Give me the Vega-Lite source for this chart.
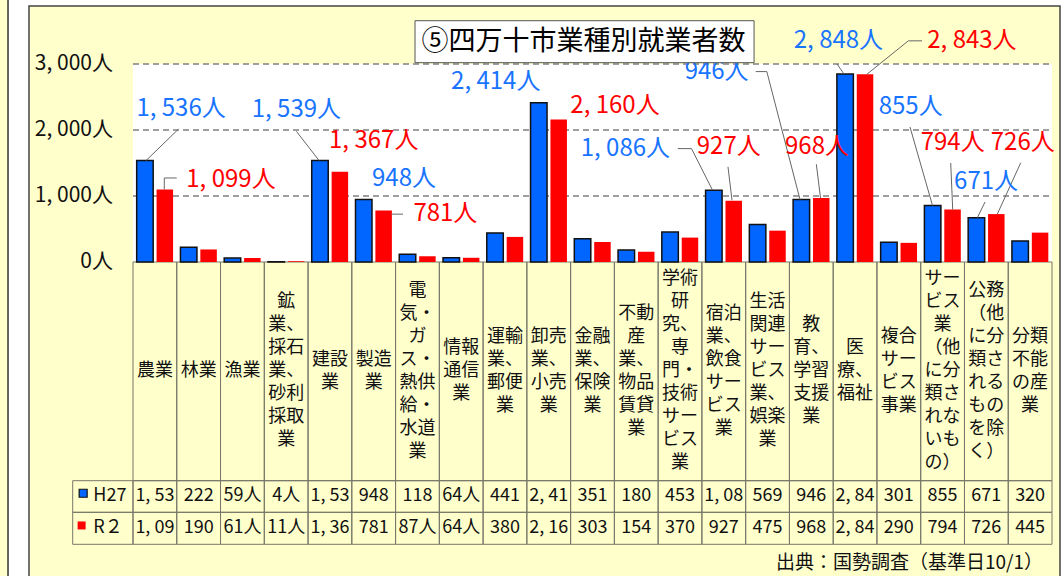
{
  "$schema": "https://vega.github.io/schema/vega-lite/v6.json",
  "width": 919,
  "height": 570,
  "autosize": {"type": "none"},
  "padding": {"left": 133, "top": 6, "right": 12, "bottom": 0},
  "background": "#FFFFFF",
  "config": {
    "view": {"stroke": "transparent", "fill": "transparent"},
    "axisX": {"disable": true},
    "font": "Noto Sans CJK JP",
    "text": {"font": "Noto Sans CJK JP"}
  },
  "data": {
    "values": [
      {"cat": "農業", "label": "農業", "H27": 1536, "R2": 1099},
      {"cat": "林業", "label": "林業", "H27": 222, "R2": 190},
      {"cat": "漁業", "label": "漁業", "H27": 59, "R2": 61},
      {"cat": "鉱業、採石業、砂利採取業", "label": "鉱\n業、\n採石\n業、\n砂利\n採取\n業", "H27": 4, "R2": 11},
      {"cat": "建設業", "label": "建設\n業", "H27": 1539, "R2": 1367},
      {"cat": "製造業", "label": "製造\n業", "H27": 948, "R2": 781},
      {"cat": "電気・ガス・熱供給・水道業", "label": "電\n気・\nガ\nス・\n熱供\n給・\n水道\n業", "H27": 118, "R2": 87},
      {"cat": "情報通信業", "label": "情報\n通信\n業", "H27": 64, "R2": 64},
      {"cat": "運輸業、郵便業", "label": "運輸\n業、\n郵便\n業", "H27": 441, "R2": 380},
      {"cat": "卸売業、小売業", "label": "卸売\n業、\n小売\n業", "H27": 2414, "R2": 2160},
      {"cat": "金融業、保険業", "label": "金融\n業、\n保険\n業", "H27": 351, "R2": 303},
      {"cat": "不動産業、物品賃貸業", "label": "不動\n産\n業、\n物品\n賃貸\n業", "H27": 180, "R2": 154},
      {"cat": "学術研究、専門・技術サービス業", "label": "学術\n研\n究、\n専\n門・\n技術\nサー\nビス\n業", "H27": 453, "R2": 370},
      {"cat": "宿泊業、飲食サービス業", "label": "宿泊\n業、\n飲食\nサー\nビス\n業", "H27": 1086, "R2": 927},
      {"cat": "生活関連サービス業、娯楽業", "label": "生活\n関連\nサー\nビス\n業、\n娯楽\n業", "H27": 569, "R2": 475},
      {"cat": "教育、学習支援業", "label": "教\n育、\n学習\n支援\n業", "H27": 946, "R2": 968},
      {"cat": "医療、福祉", "label": "医\n療、\n福祉", "H27": 2848, "R2": 2843},
      {"cat": "複合サービス事業", "label": "複合\nサー\nビス\n事業", "H27": 301, "R2": 290},
      {"cat": "サービス業（他に分類されないもの）", "label": "サー\nビス\n業\n（他\nに分\n類さ\nれな\nいも\nの）", "H27": 855, "R2": 794},
      {"cat": "公務（他に分類されるものを除く）", "label": "公務\n（他\nに分\n類さ\nれる\nもの\nを除\nく）", "H27": 671, "R2": 726},
      {"cat": "分類不能の産業", "label": "分類\n不能\nの産\n業", "H27": 320, "R2": 445}
    ]
  },
  "transform": [
    {"fold": ["H27", "R2"], "as": ["series", "value"]},
    {"calculate": "replace(format(datum.value, ','), ',', ', ') + '人'", "as": "lbl"},
    {"calculate": "datum.value >= 1000 ? substring(replace(format(datum.value, ','), ',', ', '), 0, 5) : (datum.value < 100 ? datum.value + '人' : '' + datum.value)", "as": "tt"},
    {"calculate": "-1657 + (length(split(datum.label, '\\n')) - 1) * 174.24", "as": "ly"}
  ],
  "layer": [
    {
      "data": {"values": [{}]},
      "mark": {"type": "rect", "fill": "#FFFFCC", "stroke": "#444444", "strokeWidth": 1.5},
      "encoding": {
        "x": {"datum": "農業", "type": "nominal", "bandPosition": -2.3765},
        "x2": {"datum": "農業", "bandPosition": 21.183},
        "y": {"datum": 3878.79, "type": "quantitative", "axis": null},
        "y2": {"datum": -4820}
      }
    },
    {
      "data": {"values": [{}]},
      "mark": {"type": "rect", "fill": "#FFFFCC", "stroke": "#333333", "strokeWidth": 1.5},
      "encoding": {
        "x": {"datum": "農業", "type": "nominal", "bandPosition": -3.3},
        "x2": {"datum": "農業", "bandPosition": -2.856},
        "y": {"datum": 3990, "type": "quantitative", "axis": null},
        "y2": {"datum": -4820}
      }
    },
    {
      "data": {"values": [{}]},
      "mark": {"type": "rect", "fill": "#FFFFFF"},
      "encoding": {
        "x": {"datum": "農業", "type": "nominal", "bandPosition": 0},
        "x2": {"datum": "分類不能の産業", "bandPosition": 1},
        "y": {"datum": 0, "type": "quantitative", "axis": null},
        "y2": {"datum": 3000}
      }
    },
    {
      "data": {"values": [{"g": 1000}, {"g": 2000}, {"g": 3000}]},
      "mark": {"type": "rule", "stroke": "#808080", "strokeWidth": 1.5, "strokeDash": [6, 4]},
      "encoding": {
        "x": {"datum": "農業", "type": "nominal", "bandPosition": 0},
        "x2": {"datum": "分類不能の産業", "bandPosition": 1},
        "y": {"field": "g", "type": "quantitative", "axis": null}
      }
    },
    {
      "data": {"values": [{"t": 0}, {"t": 1000}, {"t": 2000}, {"t": 3000}]},
      "transform": [{"calculate": "replace(format(datum.t, ','), ',', ', ') + '人'", "as": "tl"}],
      "mark": {"type": "text", "align": "right", "baseline": "middle", "fontSize": 21, "fill": "#111111", "dx": -20},
      "encoding": {
        "x": {"datum": "農業", "type": "nominal", "bandPosition": 0},
        "y": {"field": "t", "type": "quantitative", "axis": null},
        "text": {"field": "tl"}
      }
    },
    {
      "transform": [{"filter": "datum.series === 'H27'"}],
      "mark": {"type": "rect", "fill": "transparent", "stroke": "#77776a", "strokeWidth": 1},
      "encoding": {
        "x": {"field": "cat", "type": "nominal"},
        "y": {"datum": 0, "type": "quantitative", "axis": null},
        "y2": {"datum": -3313.6}
      }
    },
    {
      "transform": [{"filter": "datum.series === 'H27'"}],
      "mark": {"type": "rect", "fill": "transparent", "stroke": "#77776a", "strokeWidth": 1},
      "encoding": {
        "x": {"field": "cat", "type": "nominal"},
        "y": {"datum": -3313.6, "type": "quantitative", "axis": null},
        "y2": {"datum": -3792.4}
      }
    },
    {
      "transform": [{"filter": "datum.series === 'H27'"}],
      "mark": {"type": "rect", "fill": "transparent", "stroke": "#77776a", "strokeWidth": 1},
      "encoding": {
        "x": {"field": "cat", "type": "nominal"},
        "y": {"datum": -3792.4, "type": "quantitative", "axis": null},
        "y2": {"datum": -4277.3}
      }
    },
    {
      "data": {"values": [{}]},
      "mark": {"type": "rect", "fill": "transparent", "stroke": "#77776a", "strokeWidth": 1},
      "encoding": {
        "x": {"datum": "農業", "type": "nominal", "bandPosition": -1.378},
        "x2": {"datum": "農業", "bandPosition": 0},
        "y": {"datum": -3313.6, "type": "quantitative", "axis": null},
        "y2": {"datum": -3792.4}
      }
    },
    {
      "data": {"values": [{}]},
      "mark": {"type": "rect", "fill": "transparent", "stroke": "#77776a", "strokeWidth": 1},
      "encoding": {
        "x": {"datum": "農業", "type": "nominal", "bandPosition": -1.378},
        "x2": {"datum": "農業", "bandPosition": 0},
        "y": {"datum": -3792.4, "type": "quantitative", "axis": null},
        "y2": {"datum": -4277.3}
      }
    },
    {
      "mark": {"type": "bar", "stroke": "#111111", "strokeWidth": 1.5},
      "encoding": {
        "x": {
          "field": "cat", "type": "nominal", "axis": null,
          "scale": {
            "domain": ["農業", "林業", "漁業", "鉱業、採石業、砂利採取業", "建設業", "製造業", "電気・ガス・熱供給・水道業", "情報通信業", "運輸業、郵便業", "卸売業、小売業", "金融業、保険業", "不動産業、物品賃貸業", "学術研究、専門・技術サービス業", "宿泊業、飲食サービス業", "生活関連サービス業、娯楽業", "教育、学習支援業", "医療、福祉", "複合サービス事業", "サービス業（他に分類されないもの）", "公務（他に分類されるものを除く）", "分類不能の産業"],
            "paddingInner": 0, "paddingOuter": 0
          }
        },
        "xOffset": {"field": "series", "type": "nominal", "scale": {"domain": ["H27", "R2"], "paddingInner": 0.171, "paddingOuter": 0.185}},
        "y": {
          "field": "value", "type": "quantitative", "axis": null,
          "scale": {"domain": [-4757.58, 3878.79], "nice": false, "zero": false}
        },
        "color": {"field": "series", "type": "nominal", "scale": {"domain": ["H27", "R2"], "range": ["#0066FF", "#FF0000"]}, "legend": null},
        "strokeOpacity": {"condition": {"test": "datum.series === 'H27'", "value": 1}, "value": 0}
      }
    },
    {"data": {"values": [{}]}, "mark": {"type": "rule", "stroke": "#666666", "strokeWidth": 1}, "encoding": {"x": {"datum": "農業", "type": "nominal", "bandPosition": 0.297}, "x2": {"datum": "農業", "bandPosition": 1.035}, "y": {"datum": 1536, "type": "quantitative", "axis": null}, "y2": {"datum": 2011}}},
    {"data": {"values": [{}]}, "mark": {"type": "rule", "stroke": "#666666", "strokeWidth": 1}, "encoding": {"x": {"datum": "農業", "type": "nominal", "bandPosition": 0.715}, "x2": {"datum": "農業", "bandPosition": 0.715}, "y": {"datum": 1099, "type": "quantitative", "axis": null}, "y2": {"datum": 1273}}},
    {"data": {"values": [{}]}, "mark": {"type": "rule", "stroke": "#666666", "strokeWidth": 1}, "encoding": {"x": {"datum": "農業", "type": "nominal", "bandPosition": 0.715}, "x2": {"datum": "農業", "bandPosition": 0.999}, "y": {"datum": 1273, "type": "quantitative", "axis": null}, "y2": {"datum": 1273}}},
    {"data": {"values": [{}]}, "mark": {"type": "rule", "stroke": "#666666", "strokeWidth": 1}, "encoding": {"x": {"datum": "建設業", "type": "nominal", "bandPosition": 0.25}, "x2": {"datum": "建設業", "bandPosition": -0.266}, "y": {"datum": 1539, "type": "quantitative", "axis": null}, "y2": {"datum": 1980}}},
    {"data": {"values": [{}]}, "mark": {"type": "rule", "stroke": "#666666", "strokeWidth": 1}, "encoding": {"x": {"datum": "製造業", "type": "nominal", "bandPosition": 0.907}, "x2": {"datum": "製造業", "bandPosition": 1.17}, "y": {"datum": 725, "type": "quantitative", "axis": null}, "y2": {"datum": 725}}},
    {"data": {"values": [{}]}, "mark": {"type": "rule", "stroke": "#666666", "strokeWidth": 1}, "encoding": {"x": {"datum": "宿泊業、飲食サービス業", "type": "nominal", "bandPosition": -0.55}, "x2": {"datum": "宿泊業、飲食サービス業", "bandPosition": -0.2377}, "y": {"datum": 1718, "type": "quantitative", "axis": null}, "y2": {"datum": 1718}}},
    {"data": {"values": [{}]}, "mark": {"type": "rule", "stroke": "#666666", "strokeWidth": 1}, "encoding": {"x": {"datum": "宿泊業、飲食サービス業", "type": "nominal", "bandPosition": -0.2377}, "x2": {"datum": "宿泊業、飲食サービス業", "bandPosition": 0.2377}, "y": {"datum": 1718, "type": "quantitative", "axis": null}, "y2": {"datum": 1095}}},
    {"data": {"values": [{}]}, "mark": {"type": "rule", "stroke": "#666666", "strokeWidth": 1}, "encoding": {"x": {"datum": "宿泊業、飲食サービス業", "type": "nominal", "bandPosition": 0.596}, "x2": {"datum": "宿泊業、飲食サービス業", "bandPosition": 0.688}, "y": {"datum": 1442, "type": "quantitative", "axis": null}, "y2": {"datum": 935}}},
    {"data": {"values": [{}]}, "mark": {"type": "rule", "stroke": "#666666", "strokeWidth": 1}, "encoding": {"x": {"datum": "教育、学習支援業", "type": "nominal", "bandPosition": -0.77}, "x2": {"datum": "教育、学習支援業", "bandPosition": -0.5165}, "y": {"datum": 2885, "type": "quantitative", "axis": null}, "y2": {"datum": 2885}}},
    {"data": {"values": [{}]}, "mark": {"type": "rule", "stroke": "#666666", "strokeWidth": 1}, "encoding": {"x": {"datum": "教育、学習支援業", "type": "nominal", "bandPosition": -0.5165}, "x2": {"datum": "教育、学習支援業", "bandPosition": 0.242}, "y": {"datum": 2885, "type": "quantitative", "axis": null}, "y2": {"datum": 946}}},
    {"data": {"values": [{}]}, "mark": {"type": "rule", "stroke": "#666666", "strokeWidth": 1}, "encoding": {"x": {"datum": "教育、学習支援業", "type": "nominal", "bandPosition": 0.615}, "x2": {"datum": "教育、学習支援業", "bandPosition": 0.711}, "y": {"datum": 1482, "type": "quantitative", "axis": null}, "y2": {"datum": 968}}},
    {"data": {"values": [{}]}, "mark": {"type": "rule", "stroke": "#666666", "strokeWidth": 1}, "encoding": {"x": {"datum": "医療、福祉", "type": "nominal", "bandPosition": 0.088}, "x2": {"datum": "医療、福祉", "bandPosition": 0.248}, "y": {"datum": 3000, "type": "quantitative", "axis": null}, "y2": {"datum": 2848}}},
    {"data": {"values": [{}]}, "mark": {"type": "rule", "stroke": "#666666", "strokeWidth": 1}, "encoding": {"x": {"datum": "医療、福祉", "type": "nominal", "bandPosition": 2.03}, "x2": {"datum": "医療、福祉", "bandPosition": 1.717}, "y": {"datum": 3351, "type": "quantitative", "axis": null}, "y2": {"datum": 3351}}},
    {"data": {"values": [{}]}, "mark": {"type": "rule", "stroke": "#666666", "strokeWidth": 1}, "encoding": {"x": {"datum": "医療、福祉", "type": "nominal", "bandPosition": 1.717}, "x2": {"datum": "医療、福祉", "bandPosition": 0.767}, "y": {"datum": 3351, "type": "quantitative", "axis": null}, "y2": {"datum": 2843}}},
    {"data": {"values": [{}]}, "mark": {"type": "rule", "stroke": "#666666", "strokeWidth": 1}, "encoding": {"x": {"datum": "サービス業（他に分類されないもの）", "type": "nominal", "bandPosition": -0.2445}, "x2": {"datum": "サービス業（他に分類されないもの）", "bandPosition": 0.27}, "y": {"datum": 2045, "type": "quantitative", "axis": null}, "y2": {"datum": 855}}},
    {"data": {"values": [{}]}, "mark": {"type": "rule", "stroke": "#666666", "strokeWidth": 1}, "encoding": {"x": {"datum": "サービス業（他に分類されないもの）", "type": "nominal", "bandPosition": 0.6856}, "x2": {"datum": "サービス業（他に分類されないもの）", "bandPosition": 0.731}, "y": {"datum": 1500, "type": "quantitative", "axis": null}, "y2": {"datum": 794}}},
    {"data": {"values": [{}]}, "mark": {"type": "rule", "stroke": "#666666", "strokeWidth": 1}, "encoding": {"x": {"datum": "公務（他に分類されるものを除く）", "type": "nominal", "bandPosition": 1.2856}, "x2": {"datum": "公務（他に分類されるものを除く）", "bandPosition": 0.751}, "y": {"datum": 1504, "type": "quantitative", "axis": null}, "y2": {"datum": 726}}},
    {"data": {"values": [{}]}, "mark": {"type": "rule", "stroke": "#666666", "strokeWidth": 1}, "encoding": {"x": {"datum": "公務（他に分類されるものを除く）", "type": "nominal", "bandPosition": 0.47}, "x2": {"datum": "公務（他に分類されるものを除く）", "bandPosition": 0.294}, "y": {"datum": 909, "type": "quantitative", "axis": null}, "y2": {"datum": 671}}},

    {"transform": [{"filter": "datum.cat === '農業' && datum.series === 'H27'"}], "mark": {"type": "text", "align": "left", "baseline": "middle", "fontSize": 24, "fill": "#1874FF", "dx": 3.4, "dy": -51.6}, "encoding": {"x": {"field": "cat", "type": "nominal", "bandPosition": 0}, "y": {"field": "value", "type": "quantitative", "axis": null}, "text": {"field": "lbl"}}},
    {"transform": [{"filter": "datum.cat === '農業' && datum.series === 'R2'"}], "mark": {"type": "text", "align": "left", "baseline": "middle", "fontSize": 24, "fill": "#FF0000", "dx": 53.3, "dy": -9}, "encoding": {"x": {"field": "cat", "type": "nominal", "bandPosition": 0}, "y": {"field": "value", "type": "quantitative", "axis": null}, "text": {"field": "lbl"}}},
    {"transform": [{"filter": "datum.cat === '建設業' && datum.series === 'H27'"}], "mark": {"type": "text", "align": "left", "baseline": "middle", "fontSize": 24, "fill": "#1874FF", "dx": -56.3, "dy": -50.4}, "encoding": {"x": {"field": "cat", "type": "nominal", "bandPosition": 0}, "y": {"field": "value", "type": "quantitative", "axis": null}, "text": {"field": "lbl"}}},
    {"transform": [{"filter": "datum.cat === '建設業' && datum.series === 'R2'"}], "mark": {"type": "text", "align": "left", "baseline": "middle", "fontSize": 24, "fill": "#FF0000", "dx": 21, "dy": -31.2}, "encoding": {"x": {"field": "cat", "type": "nominal", "bandPosition": 0}, "y": {"field": "value", "type": "quantitative", "axis": null}, "text": {"field": "lbl"}}},
    {"transform": [{"filter": "datum.cat === '製造業' && datum.series === 'H27'"}], "mark": {"type": "text", "align": "left", "baseline": "middle", "fontSize": 24, "fill": "#1874FF", "dx": 20.2, "dy": -20.4}, "encoding": {"x": {"field": "cat", "type": "nominal", "bandPosition": 0}, "y": {"field": "value", "type": "quantitative", "axis": null}, "text": {"field": "lbl"}}},
    {"transform": [{"filter": "datum.cat === '製造業' && datum.series === 'R2'"}], "mark": {"type": "text", "align": "left", "baseline": "middle", "fontSize": 24, "fill": "#FF0000", "dx": 61.6, "dy": 3.5}, "encoding": {"x": {"field": "cat", "type": "nominal", "bandPosition": 0}, "y": {"field": "value", "type": "quantitative", "axis": null}, "text": {"field": "lbl"}}},
    {"transform": [{"filter": "datum.cat === '卸売業、小売業' && datum.series === 'H27'"}], "mark": {"type": "text", "align": "left", "baseline": "middle", "fontSize": 24, "fill": "#1874FF", "dx": -75.8, "dy": -20.4}, "encoding": {"x": {"field": "cat", "type": "nominal", "bandPosition": 0}, "y": {"field": "value", "type": "quantitative", "axis": null}, "text": {"field": "lbl"}}},
    {"transform": [{"filter": "datum.cat === '卸売業、小売業' && datum.series === 'R2'"}], "mark": {"type": "text", "align": "left", "baseline": "middle", "fontSize": 24, "fill": "#FF0000", "dx": 43.5, "dy": -13.9}, "encoding": {"x": {"field": "cat", "type": "nominal", "bandPosition": 0}, "y": {"field": "value", "type": "quantitative", "axis": null}, "text": {"field": "lbl"}}},
    {"transform": [{"filter": "datum.cat === '宿泊業、飲食サービス業' && datum.series === 'H27'"}], "mark": {"type": "text", "align": "left", "baseline": "middle", "fontSize": 24, "fill": "#1874FF", "dx": -121.2, "dy": -41.7}, "encoding": {"x": {"field": "cat", "type": "nominal", "bandPosition": 0}, "y": {"field": "value", "type": "quantitative", "axis": null}, "text": {"field": "lbl"}}},
    {"transform": [{"filter": "datum.cat === '宿泊業、飲食サービス業' && datum.series === 'R2'"}], "mark": {"type": "text", "align": "left", "baseline": "middle", "fontSize": 24, "fill": "#FF0000", "dx": -5.1, "dy": -53.8}, "encoding": {"x": {"field": "cat", "type": "nominal", "bandPosition": 0}, "y": {"field": "value", "type": "quantitative", "axis": null}, "text": {"field": "lbl"}}},
    {"transform": [{"filter": "datum.cat === '教育、学習支援業' && datum.series === 'H27'"}], "mark": {"type": "text", "align": "left", "baseline": "middle", "fontSize": 24, "fill": "#1874FF", "dx": -104.8, "dy": -127.3}, "encoding": {"x": {"field": "cat", "type": "nominal", "bandPosition": 0}, "y": {"field": "value", "type": "quantitative", "axis": null}, "text": {"field": "lbl"}}},
    {"transform": [{"filter": "datum.cat === '教育、学習支援業' && datum.series === 'R2'"}], "mark": {"type": "text", "align": "left", "baseline": "middle", "fontSize": 24, "fill": "#FF0000", "dx": -4.4, "dy": -51.1}, "encoding": {"x": {"field": "cat", "type": "nominal", "bandPosition": 0}, "y": {"field": "value", "type": "quantitative", "axis": null}, "text": {"field": "lbl"}}},
    {"transform": [{"filter": "datum.cat === '医療、福祉' && datum.series === 'H27'"}], "mark": {"type": "text", "align": "left", "baseline": "middle", "fontSize": 24, "fill": "#1874FF", "dx": -39.4, "dy": -33.2}, "encoding": {"x": {"field": "cat", "type": "nominal", "bandPosition": 0}, "y": {"field": "value", "type": "quantitative", "axis": null}, "text": {"field": "lbl"}}},
    {"transform": [{"filter": "datum.cat === '医療、福祉' && datum.series === 'R2'"}], "mark": {"type": "text", "align": "left", "baseline": "middle", "fontSize": 24, "fill": "#FF0000", "dx": 94.1, "dy": -33.6}, "encoding": {"x": {"field": "cat", "type": "nominal", "bandPosition": 0}, "y": {"field": "value", "type": "quantitative", "axis": null}, "text": {"field": "lbl"}}},
    {"transform": [{"filter": "datum.cat === 'サービス業（他に分類されないもの）' && datum.series === 'H27'"}], "mark": {"type": "text", "align": "left", "baseline": "middle", "fontSize": 24, "fill": "#1874FF", "dx": -42, "dy": -98.6}, "encoding": {"x": {"field": "cat", "type": "nominal", "bandPosition": 0}, "y": {"field": "value", "type": "quantitative", "axis": null}, "text": {"field": "lbl"}}},
    {"transform": [{"filter": "datum.cat === 'サービス業（他に分類されないもの）' && datum.series === 'R2'"}], "mark": {"type": "text", "align": "left", "baseline": "middle", "fontSize": 24, "fill": "#FF0000", "dx": 0, "dy": -66.6}, "encoding": {"x": {"field": "cat", "type": "nominal", "bandPosition": 0}, "y": {"field": "value", "type": "quantitative", "axis": null}, "text": {"field": "lbl"}}},
    {"transform": [{"filter": "datum.cat === '公務（他に分類されるものを除く）' && datum.series === 'H27'"}], "mark": {"type": "text", "align": "left", "baseline": "middle", "fontSize": 24, "fill": "#1874FF", "dx": -10.4, "dy": -36}, "encoding": {"x": {"field": "cat", "type": "nominal", "bandPosition": 0}, "y": {"field": "value", "type": "quantitative", "axis": null}, "text": {"field": "lbl"}}},
    {"transform": [{"filter": "datum.cat === '公務（他に分類されるものを除く）' && datum.series === 'R2'"}], "mark": {"type": "text", "align": "left", "baseline": "middle", "fontSize": 24, "fill": "#FF0000", "dx": 26.3, "dy": -71.1}, "encoding": {"x": {"field": "cat", "type": "nominal", "bandPosition": 0}, "y": {"field": "value", "type": "quantitative", "axis": null}, "text": {"field": "lbl"}}},

    {
      "data": {"values": [{}]},
      "mark": {"type": "rect", "fill": "#FFFFFF", "stroke": "#555555", "strokeWidth": 1},
      "encoding": {
        "x": {"datum": "運輸業、郵便業", "type": "nominal", "bandPosition": -1.556},
        "x2": {"datum": "運輸業、郵便業", "bandPosition": 6.192},
        "y": {"datum": 3656, "type": "quantitative", "axis": null},
        "y2": {"datum": 3020}
      }
    },
    {
      "data": {"values": [{}]},
      "mark": {"type": "text", "align": "left", "baseline": "middle", "fontSize": 27, "fill": "#000000"},
      "encoding": {
        "x": {"datum": "運輸業、郵便業", "type": "nominal", "bandPosition": -1.41},
        "y": {"datum": 3338, "type": "quantitative", "axis": null},
        "text": {"value": "⑤四万十市業種別就業者数"}
      }
    },
    {
      "transform": [{"filter": "datum.series === 'H27'"}],
      "mark": {"type": "text", "align": "center", "baseline": "middle", "fontSize": 18, "lineHeight": 23, "lineBreak": "\n", "fill": "#111111"},
      "encoding": {
        "x": {"field": "cat", "type": "nominal"},
        "y": {"field": "ly", "type": "quantitative", "axis": null},
        "text": {"field": "label"}
      }
    },
    {
      "transform": [{"filter": "datum.series === 'H27'"}],
      "mark": {"type": "text", "align": "center", "baseline": "middle", "fontSize": 18, "fill": "#111111"},
      "encoding": {
        "x": {"field": "cat", "type": "nominal"},
        "y": {"datum": -3553, "type": "quantitative", "axis": null},
        "text": {"field": "tt"}
      }
    },
    {
      "transform": [{"filter": "datum.series === 'R2'"}],
      "mark": {"type": "text", "align": "center", "baseline": "middle", "fontSize": 18, "fill": "#111111"},
      "encoding": {
        "x": {"field": "cat", "type": "nominal"},
        "y": {"datum": -4035, "type": "quantitative", "axis": null},
        "text": {"field": "tt"}
      }
    },
    {
      "data": {"values": [{}]},
      "mark": {"type": "point", "shape": "square", "size": 64, "filled": true, "fill": "#0066FF", "stroke": "#111111", "strokeWidth": 1.2, "opacity": 1},
      "encoding": {
        "x": {"datum": "農業", "type": "nominal", "bandPosition": -1.139},
        "y": {"datum": -3504, "type": "quantitative", "axis": null}
      }
    },
    {
      "data": {"values": [{}]},
      "mark": {"type": "point", "shape": "square", "size": 64, "filled": true, "fill": "#FF0000", "strokeWidth": 0, "opacity": 1},
      "encoding": {
        "x": {"datum": "農業", "type": "nominal", "bandPosition": -1.174},
        "y": {"datum": -3992, "type": "quantitative", "axis": null}
      }
    },
    {
      "data": {"values": [{}]},
      "mark": {"type": "text", "align": "left", "baseline": "middle", "fontSize": 18, "fill": "#111111"},
      "encoding": {
        "x": {"datum": "農業", "type": "nominal", "bandPosition": -0.907},
        "y": {"datum": -3553, "type": "quantitative", "axis": null},
        "text": {"value": "H27"}
      }
    },
    {
      "data": {"values": [{}]},
      "mark": {"type": "text", "align": "left", "baseline": "middle", "fontSize": 18, "fill": "#111111"},
      "encoding": {
        "x": {"datum": "農業", "type": "nominal", "bandPosition": -0.907},
        "y": {"datum": -4035, "type": "quantitative", "axis": null},
        "text": {"value": "R２"}
      }
    },
    {
      "data": {"values": [{}]},
      "mark": {"type": "text", "align": "right", "baseline": "middle", "fontSize": 19, "fill": "#111111"},
      "encoding": {
        "x": {"datum": "分類不能の産業", "type": "nominal", "bandPosition": 0.794},
        "y": {"datum": -4561, "type": "quantitative", "axis": null},
        "text": {"value": "出典：国勢調査（基準日10/1）"}
      }
    }
  ]
}
